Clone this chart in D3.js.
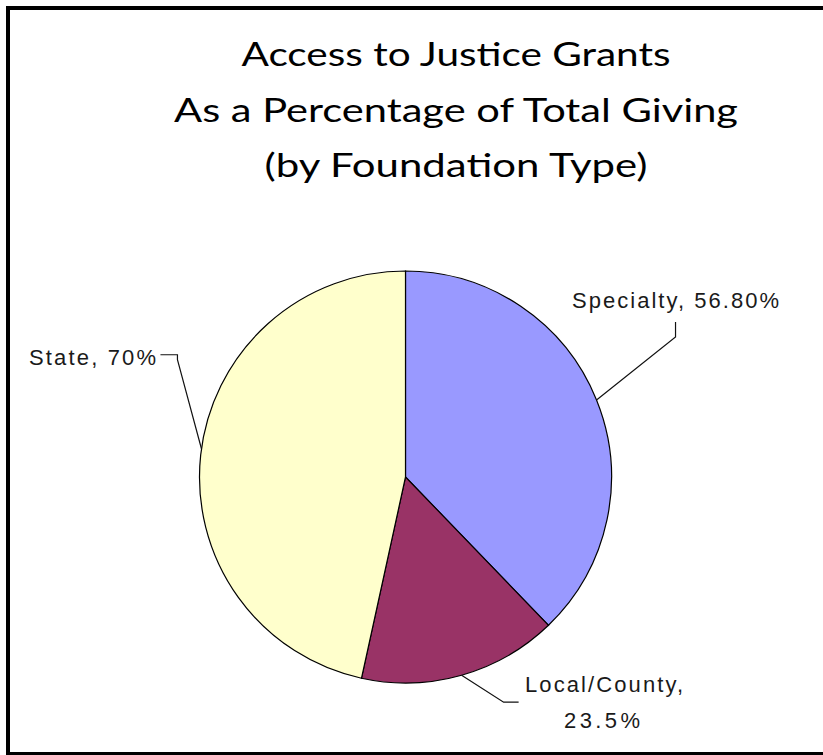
<!DOCTYPE html>
<html>
<head>
<meta charset="utf-8">
<script src="https://cdn.jsdelivr.net/npm/d3@7"></script>
<style>
  html, body { margin: 0; padding: 0; background: #fff; }
  svg { display: block; }
</style>
</head>
<body>
<div id="chart"></div>
<script>
// data
const categories = ["Specialty", "Local/County", "State"]
const values = [56.8, 23.5, 70]
const valueLabels = ["56.80%", "23.5%", "70%"]
const sliceColors = ["#9999ff", "#993366", "#ffffcc"]
const titleLines = [
  "Access to Justice Grants",
  "As a Percentage of Total Giving",
  "(by Foundation Type)",
]

const width = 823
const height = 755
const cx = 405.5
const cy = 477
const radius = 206

const svg = d3
  .select("#chart")
  .append("svg")
  .attr("width", width)
  .attr("height", height)

// frame (runs off the right edge like the original)
svg
  .append("rect")
  .attr("x", 8)
  .attr("y", 8)
  .attr("width", 840)
  .attr("height", 746)
  .attr("fill", "none")
  .attr("stroke", "#000")
  .attr("stroke-width", 4)

// title
const titleWidths = [429, 564, 383]
const titleBaselines = [66, 122, 177]
svg
  .append("g")
  .selectAll("text")
  .data(titleLines)
  .join("text")
  .attr("x", 456)
  .attr("y", (d, i) => titleBaselines[i])
  .attr("text-anchor", "middle")
  .attr("font-family", "Lato, 'Open Sans', sans-serif")
  .attr("font-size", 32)
  .attr("fill", "#000")
  .attr("textLength", (d, i) => titleWidths[i])
  .attr("lengthAdjust", "spacingAndGlyphs")
  .text((d) => d)

// pie
const slices = categories.map((c, i) => ({
  name: c,
  value: values[i],
  label: valueLabels[i],
  color: sliceColors[i],
}))

const pie = d3
  .pie()
  .value((d) => d.value)
  .sort(null)

const arc = d3.arc().innerRadius(0).outerRadius(radius)

const arcs = pie(slices)

const g = svg.append("g").attr("transform", `translate(${cx},${cy})`)

g.selectAll("path")
  .data(arcs)
  .join("path")
  .attr("d", arc)
  .attr("fill", (d) => d.data.color)
  .attr("stroke", "#000")
  .attr("stroke-width", 1.2)

// leader lines + labels, anchored on the rim at each slice's mid angle
const edge = (d) => {
  const a = (d.startAngle + d.endAngle) / 2 + (d.data.name === "State" ? 0.03 : 0)
  return [radius * Math.sin(a), -radius * Math.cos(a)]
}

// elbow offsets from the anchor, and where the text sits
const leaderShape = {
  Specialty: (p) => [p, [p[0] + 79, p[1] - 63], [p[0] + 79, p[1] - 78]],
  "Local/County": (p) => [p, [p[0] + 42, p[1] + 27], [p[0] + 57, p[1] + 27]],
  State: (p) => [p, [p[0] - 24, p[1] - 89], [p[0] - 24, p[1] - 94], [p[0] - 41, p[1] - 94]],
}

const labelFont = "'Liberation Sans', Arial, sans-serif"
const line = d3.line()

arcs.forEach((d) => {
  const pts = leaderShape[d.data.name](edge(d))
  g.append("path")
    .attr("d", line(pts))
    .attr("fill", "none")
    .attr("stroke", "#111")
    .attr("stroke-width", 1.2)
})

const labelLayer = svg.append("g")
  .attr("font-family", labelFont)
  .attr("font-size", 22)
  .attr("fill", "#1a1a1a")

labelLayer
  .append("text")
  .attr("x", 572)
  .attr("y", 308)
  .attr("textLength", 207)
  .text(`${categories[0]}, ${valueLabels[0]}`)

labelLayer
  .append("text")
  .attr("x", 525)
  .attr("y", 692)
  .attr("textLength", 158)
  .text(`${categories[1]},`)

labelLayer
  .append("text")
  .attr("x", 602)
  .attr("y", 728)
  .attr("text-anchor", "middle")
  .attr("textLength", 76)
  .text(valueLabels[1])

labelLayer
  .append("text")
  .attr("x", 29)
  .attr("y", 365)
  .attr("textLength", 127)
  .text(`${categories[2]}, ${valueLabels[2]}`)
</script>
</body>
</html>
